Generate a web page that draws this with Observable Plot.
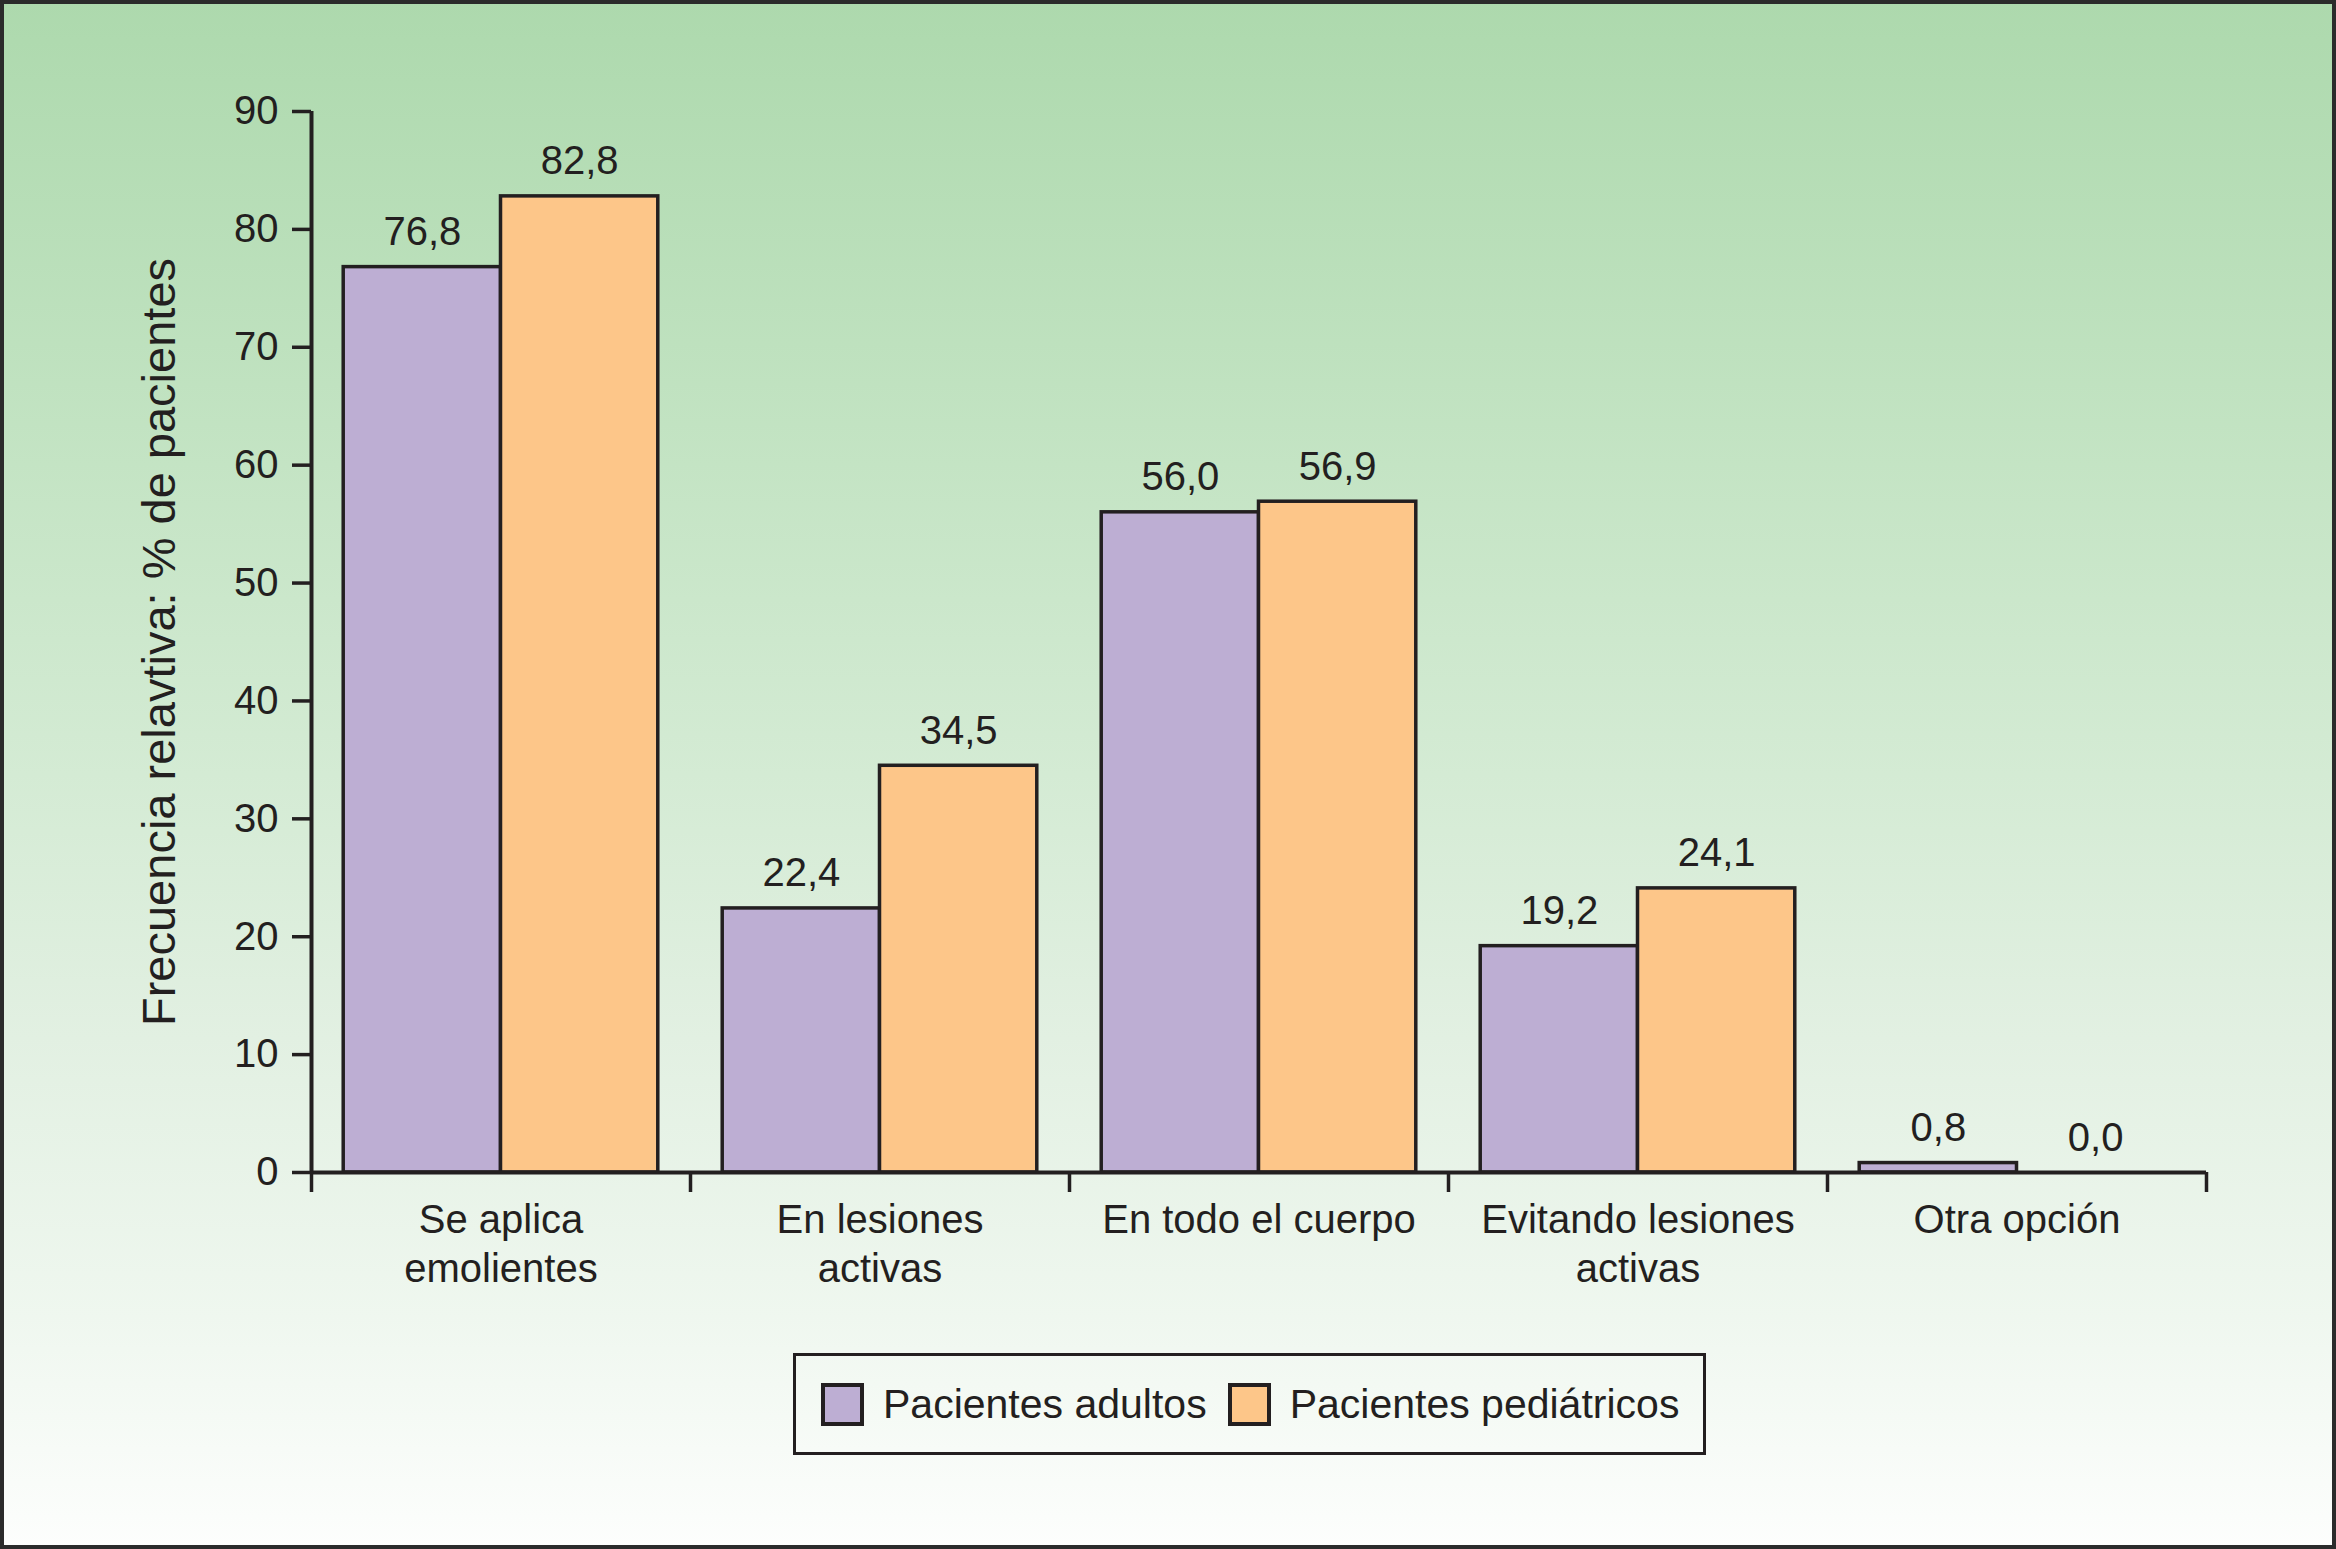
<!DOCTYPE html>
<html>
<head>
<meta charset="utf-8">
<script src="https://cdn.jsdelivr.net/npm/d3@7"></script>
<script src="https://cdn.jsdelivr.net/npm/@observablehq/plot@0.6"></script>
<style>
  html, body { margin: 0; padding: 0; overflow: hidden; background: #fff; }
  #fig {
    position: relative; width: 2336px; height: 1549px;
    background: linear-gradient(to bottom, #add9ad 0%, #c4e4c4 30%, #d4ebd4 50%, #e2f0e2 67%, #eff7ef 85%, #fdfefd 100%);
    font-family: "Liberation Sans", Arial, Helvetica, sans-serif; color: #231f20;
  }
  #fig::after {
    content: ""; position: absolute; inset: 0; border: 4px solid #2b2b2b; pointer-events: none;
  }
  #chart { position: absolute; left: 0; top: 0; }
  #legend {
    position: absolute; left: 793px; top: 1353px; width: 913px; height: 102px;
    box-sizing: border-box; border: 3px solid #231f20;
    display: flex; align-items: center; padding-left: 25px; font-size: 41px;
  }
  .sw { width: 43px; height: 43px; box-sizing: border-box; border: 4px solid #231f20; margin-right: 19px; }
  .item { display: flex; align-items: center; margin-right: 21px; }
</style>
</head>
<body>
<div id="fig">
  <div id="chart"></div>
  <div id="legend"></div>
</div>
<script>
// Tratamiento con emolientes: adultos vs pediátricos
const categories = ["Se aplica\nemolientes", "En lesiones\nactivas", "En todo el cuerpo", "Evitando lesiones\nactivas", "Otra opción"];
const series = ["Pacientes adultos", "Pacientes pediátricos"];
const adultos = [76.8, 22.4, 56.0, 19.2, 0.8];
const pediatricos = [82.8, 34.5, 56.9, 24.1, 0.0];
const colors = ["#bdaed3", "#fdc689"];
const yTicks = d3.range(0, 91, 10);
const yTitle = "Frecuencia relavtiva: % de pacientes";

const ink = "#231f20";
const gap = 0.085;               // outer gap inside each category slot
const barW = (1 - 2 * gap) / 2;  // two bars per slot

const rows = categories.flatMap((c, i) =>
  [adultos, pediatricos].map((vals, j) => ({
    cat: c,
    serie: series[j],
    value: vals[i],
    x1: i + gap + j * barW,
    x2: i + gap + (j + 1) * barW,
  }))
);

const fmt = v => v.toFixed(1).replace(".", ",");

const plot = Plot.plot({
  width: 2336,
  height: 1340,
  marginTop: 111,
  marginLeft: 311,
  marginRight: 130,
  marginBottom: 168,
  style: {
    background: "transparent",
    fontFamily: '"Liberation Sans", Arial, Helvetica, sans-serif',
    color: ink,
    overflow: "visible",
  },
  x: { domain: [0, categories.length], axis: null },
  y: { domain: [0, 90], axis: null },
  color: { domain: series, range: colors },
  marks: [
    Plot.rect(rows, {
      x1: "x1", x2: "x2", y1: 0, y2: "value",
      fill: "serie", stroke: ink, strokeWidth: 3.5,
    }),
    Plot.text(rows, {
      x: d => (d.x1 + d.x2) / 2,
      y: "value",
      text: d => fmt(d.value),
      lineAnchor: "bottom",
      dy: -22,
      fontSize: 40,
      fill: ink,
    }),
    Plot.ruleX([0], { stroke: ink, strokeWidth: 4 }),
    Plot.ruleY([0], { stroke: ink, strokeWidth: 4 }),
    Plot.axisY({ ticks: yTicks, tickSize: 19, tickPadding: 14, fontSize: 40, strokeWidth: 3.5, label: null }),
    // boundary ticks between categories
    Plot.axisX({ ticks: d3.range(categories.length + 1), tickSize: 20, tickFormat: () => "", strokeWidth: 3.5, label: null }),
    // category labels
    Plot.axisX({
      ticks: categories.map((c, i) => i + 0.5),
      tickSize: 0,
      tickPadding: 26,
      tickFormat: d => categories[Math.floor(d)],
      fontSize: 40,
      lineHeight: 1.22,
      label: null,
    }),
    Plot.text([yTitle], {
      frameAnchor: "left", textAnchor: "middle", rotate: -90,
      dx: -152, fontSize: 47, fill: ink,
    }),
  ],
});
document.getElementById("chart").appendChild(plot);

// legend
const legend = document.getElementById("legend");
series.forEach((s, j) => {
  const item = document.createElement("div");
  item.className = "item";
  item.innerHTML = `<div class="sw" style="background:${colors[j]}"></div><span>${s}</span>`;
  legend.appendChild(item);
});
</script>
</body>
</html>
